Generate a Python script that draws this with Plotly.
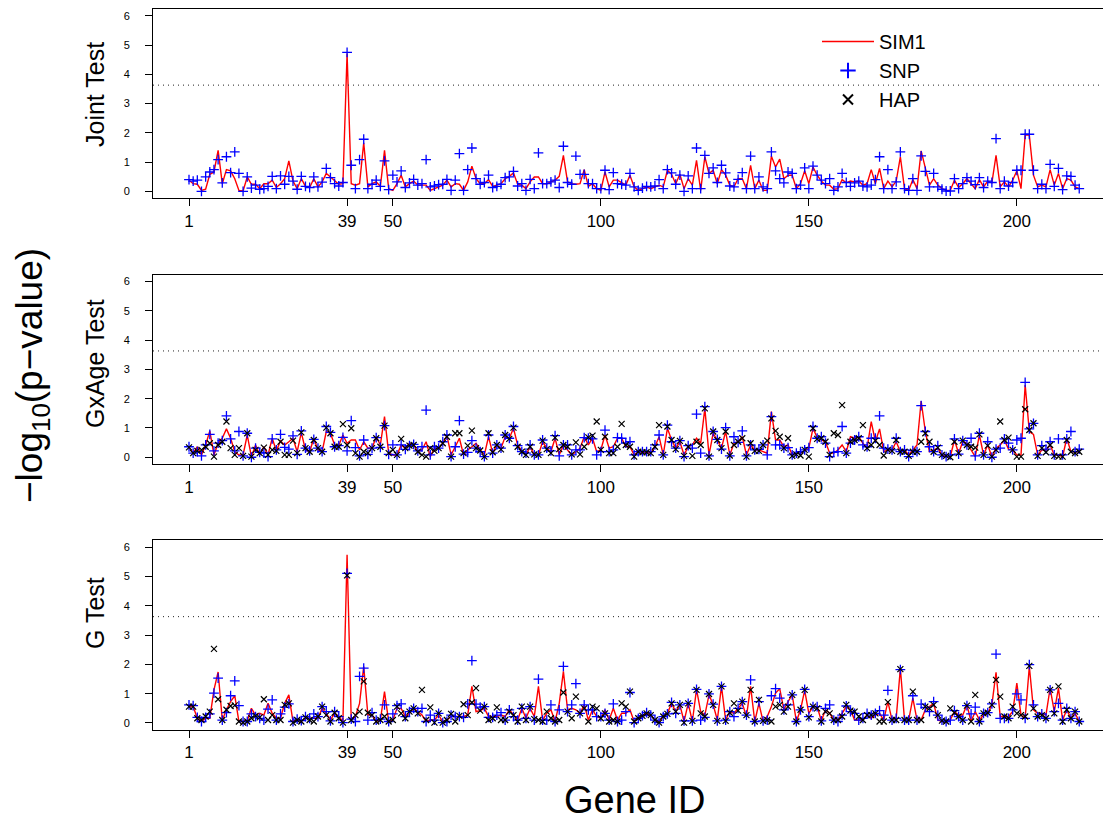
import plotly.graph_objects as go

genes = list(range(1, 216))

# ---------- Panel 1: Joint Test ----------
joint_sim1 = [0.38,0.26,0.24,0.03,0.07,0.58,0.66,1.40,0.26,0.74,0.70,0.43,0.03,0.01,0.49,0.24,0.24,0.09,0.26,0.26,
              0.38,0.13,0.26,0.43,1.04,0.35,0.09,0.43,0.17,0.13,0.43,0.15,0.32,0.61,0.49,0.35,0.24,0.26,4.71,0.26,
              0.21,0.26,1.66,0.15,0.26,0.32,0.17,1.40,0.09,0.03,0.26,0.55,0.15,0.26,0.35,0.21,0.21,0.21,0.03,0.09,
              0.15,0.21,0.38,0.15,0.26,0.24,0.03,0.32,0.86,0.43,0.26,0.26,0.40,0.17,0.21,0.26,0.43,0.51,0.63,0.24,
              0.21,0.09,0.32,0.49,0.49,0.26,0.26,0.32,0.38,0.51,1.23,0.32,0.26,0.24,0.26,0.74,0.17,0.26,0.09,0.03,
              0.66,0.15,0.38,0.38,0.29,0.21,0.55,0.15,0.03,0.09,0.15,0.09,0.15,0.21,0.15,0.72,0.58,0.26,0.58,0.09,
              0.43,0.21,1.06,0.03,1.18,0.61,0.72,0.26,0.74,0.55,0.21,0.15,0.43,0.43,0.09,0.89,0.09,0.38,0.03,0.03,
              1.20,0.83,1.10,0.43,0.55,0.55,0.09,0.26,0.70,0.26,0.83,0.55,0.35,0.21,0.21,0.07,0.09,0.40,0.29,0.35,
              0.32,0.35,0.21,0.26,0.74,0.26,0.78,0.09,0.35,0.15,0.35,1.18,0.09,0.03,0.40,0.09,1.38,0.78,0.21,0.43,
              0.21,0.09,0.03,0.03,0.38,0.13,0.26,0.43,0.26,0.09,0.40,0.15,0.35,0.29,1.23,0.15,0.32,0.15,0.38,0.70,
              0.09,1.92,1.92,0.55,0.15,0.21,0.15,0.74,0.21,0.61,0.09,0.43,0.38,0.15,0.09]
joint_snp = [0.40,0.35,0.38,0.00,0.49,0.66,0.74,1.08,0.29,1.18,0.64,1.35,0.61,0.00,0.49,0.11,0.21,0.07,0.09,0.17,
             0.51,0.09,0.53,0.24,0.51,0.35,0.07,0.51,0.17,0.13,0.49,0.15,0.31,0.78,0.47,0.26,0.18,0.30,4.75,0.89,
             0.09,1.08,1.78,0.09,0.24,0.38,0.17,1.04,0.06,0.55,0.32,0.70,0.13,0.29,0.41,0.21,0.26,1.08,0.15,0.18,
             0.23,0.24,0.41,0.03,0.38,1.29,0.03,0.74,1.48,0.43,0.24,0.30,0.55,0.13,0.17,0.24,0.47,0.49,0.68,0.18,
             0.26,0.03,0.41,0.09,1.31,0.26,0.26,0.32,0.38,0.13,1.54,0.30,0.24,1.20,0.58,0.58,0.26,0.26,0.09,0.09,
             0.72,0.06,0.64,0.26,0.24,0.21,0.61,0.15,0.03,0.11,0.17,0.15,0.18,0.40,0.09,0.74,0.63,0.24,0.55,0.00,
             0.53,0.09,1.48,0.09,1.23,0.61,0.80,0.30,0.89,0.63,0.18,0.15,0.41,0.64,0.09,1.20,0.09,0.49,0.15,0.09,
             1.35,0.70,0.43,0.29,0.66,0.61,0.09,0.21,0.80,0.09,0.86,0.55,0.38,0.26,0.43,0.03,0.15,0.61,0.30,0.17,
             0.29,0.35,0.18,0.15,0.21,0.40,1.18,0.09,0.74,0.09,0.32,1.35,0.09,0.03,0.43,0.03,1.21,0.68,0.15,0.61,
             0.15,0.07,0.01,0.01,0.43,0.09,0.26,0.47,0.35,0.23,0.47,0.13,0.35,0.30,1.80,0.09,0.35,0.18,0.30,0.72,
             0.72,1.95,1.95,0.72,0.09,0.24,0.09,0.92,0.17,0.78,0.06,0.53,0.51,0.21,0.09]

# ---------- Panel 2: GxAge Test ----------
gxage_sim1 = [0.33,0.14,0.36,0.08,0.42,0.90,0.08,0.48,0.65,0.97,0.65,0.19,0.08,0.08,0.76,0.02,0.42,0.08,0.36,0.08,
              0.65,0.22,0.56,0.42,0.53,0.65,0.19,0.84,0.25,0.19,0.65,0.25,0.19,0.88,0.82,0.42,0.40,0.76,0.48,0.59,
              0.59,0.25,0.53,0.31,0.31,0.70,0.42,1.39,0.14,0.08,0.08,0.42,0.31,0.48,0.42,0.19,0.25,0.53,0.02,0.31,
              0.31,0.48,0.74,0.08,0.36,0.65,0.08,0.25,0.36,0.48,0.25,0.08,0.70,0.14,0.42,0.31,0.70,0.65,0.99,0.42,
              0.22,0.08,0.36,0.08,0.08,0.53,0.31,0.19,0.65,0.08,0.42,0.25,0.08,0.19,0.31,0.70,0.42,0.65,0.19,0.25,
              0.76,0.31,0.36,0.65,0.65,0.36,0.36,0.08,0.19,0.17,0.17,0.14,0.36,0.70,0.08,0.99,0.59,0.31,0.53,0.08,
              0.36,0.42,0.65,0.48,1.67,0.08,0.82,0.59,0.31,0.88,0.08,0.48,0.53,0.70,0.08,0.42,0.25,0.25,0.19,0.14,
              1.56,0.59,0.59,0.36,0.42,0.08,0.14,0.14,0.22,0.31,0.99,0.67,0.59,0.53,0.14,0.14,0.25,0.42,0.19,0.70,
              0.65,0.70,0.48,0.31,1.22,0.53,0.97,0.19,0.25,0.25,0.53,0.19,0.25,0.08,0.25,0.42,1.92,0.88,0.19,0.25,
              0.31,0.08,0.02,0.02,0.59,0.14,0.53,0.48,0.25,0.02,0.76,0.08,0.42,0.02,0.31,0.42,0.59,0.28,0.25,0.08,
              0.08,2.47,0.88,0.78,0.08,0.25,0.25,0.42,0.08,0.08,0.02,0.65,0.19,0.19,0.19]
gxage_snp = [0.36,0.14,0.19,0.05,0.42,0.78,0.22,0.48,0.57,1.41,0.63,0.22,0.88,0.05,0.82,0.00,0.31,0.17,0.14,0.02,
             0.63,0.25,0.78,0.34,0.28,0.73,0.10,0.90,0.31,0.22,0.61,0.31,0.19,1.05,0.85,0.36,0.40,0.68,0.22,1.25,
             0.33,0.05,0.59,0.10,0.31,0.67,0.34,1.08,0.10,0.42,0.08,0.42,0.27,0.40,0.44,0.22,0.36,1.61,0.08,0.36,
             0.31,0.53,0.76,0.02,0.36,1.25,0.11,0.17,0.57,0.31,0.19,0.02,0.76,0.14,0.42,0.31,0.76,0.65,1.05,0.40,
             0.19,0.14,0.42,0.08,0.08,0.59,0.31,0.22,0.74,0.05,0.42,0.42,0.08,0.25,0.25,0.67,0.65,0.63,0.08,0.19,
             0.93,0.19,0.25,0.67,0.65,0.48,0.53,0.08,0.19,0.19,0.19,0.19,0.42,0.76,0.08,1.10,0.53,0.31,0.57,0.02,
             0.40,0.31,1.47,0.14,1.73,0.05,0.88,0.61,0.28,1.01,0.05,0.70,0.51,0.90,0.05,0.42,0.25,0.27,0.42,0.08,
             1.39,0.42,0.42,0.31,0.33,0.08,0.14,0.19,0.25,0.33,1.05,0.65,0.70,0.48,0.02,0.17,0.19,1.05,0.14,0.48,
             0.59,0.70,0.42,0.36,0.65,0.65,1.41,0.31,0.28,0.25,0.65,0.19,0.25,0.02,0.23,0.19,1.76,0.88,0.36,0.19,
             0.40,0.08,0.02,0.08,0.63,0.11,0.57,0.42,0.65,0.05,0.82,0.08,0.53,0.00,0.28,0.31,0.63,0.48,0.25,0.59,
             0.65,2.56,0.97,1.16,0.08,0.40,0.28,0.53,0.08,0.63,0.08,0.63,0.88,0.19,0.28]
gxage_hap = [0.34,0.14,0.22,0.25,0.36,0.48,0.02,0.42,0.53,1.22,0.31,0.08,0.31,0.05,0.82,0.02,0.25,0.14,0.33,0.08,
             0.25,0.22,0.53,0.08,0.08,0.57,0.14,0.85,0.31,0.19,0.59,0.31,0.19,1.01,0.82,0.36,0.36,1.13,0.42,0.99,
             0.14,0.02,0.19,0.14,0.31,0.65,0.36,1.08,0.14,0.25,0.08,0.63,0.31,0.40,0.42,0.19,0.08,0.02,0.31,0.22,
             0.31,0.48,0.70,0.02,0.82,0.82,0.14,0.40,0.91,0.31,0.23,0.02,0.82,0.17,0.42,0.27,0.76,0.63,1.01,0.36,
             0.19,0.08,0.36,0.10,0.08,0.57,0.28,0.14,0.67,0.28,0.42,0.36,0.10,0.51,0.10,0.36,0.68,0.74,1.22,0.25,
             0.70,0.14,0.14,0.36,1.14,0.42,0.36,0.02,0.19,0.17,0.17,0.14,0.36,1.10,0.08,1.05,0.59,0.28,0.56,0.05,
             0.36,0.05,0.53,0.42,1.67,0.02,0.88,0.59,0.31,0.88,0.06,0.42,0.53,0.65,0.02,0.48,0.22,0.22,0.42,0.57,
             1.33,0.90,0.70,0.31,0.65,0.05,0.10,0.06,0.25,0.02,0.99,0.63,0.65,0.53,0.08,0.82,0.76,1.78,0.14,0.53,
             0.59,0.65,1.10,0.31,0.42,0.57,0.42,0.06,0.25,0.22,0.59,0.19,0.19,0.05,0.19,0.19,0.53,0.82,0.53,0.19,
             0.33,0.08,0.05,0.00,0.53,0.14,0.57,0.42,0.36,0.33,0.78,0.08,0.40,0.02,0.25,1.22,0.59,0.67,0.25,0.02,
             0.02,1.64,0.93,1.16,0.05,0.31,0.17,0.42,0.05,0.02,0.02,0.59,0.19,0.14,0.19]

# ---------- Panel 3: G Test ----------
g_sim1 = [0.56,0.56,0.16,0.05,0.16,0.16,1.13,1.74,0.10,0.45,0.73,0.93,0.05,0.05,0.08,0.50,0.27,0.33,0.27,0.67,
          0.33,0.16,0.16,0.67,0.96,0.05,0.10,0.05,0.16,0.16,0.16,0.16,0.50,0.33,0.10,0.33,0.22,0.05,5.74,0.10,
          0.22,0.67,1.93,0.27,0.27,0.05,0.10,1.07,0.05,0.10,0.50,0.50,0.22,0.33,0.50,0.39,0.27,0.05,0.10,0.10,
          0.27,0.05,0.10,0.22,0.22,0.22,0.22,0.27,1.25,0.39,0.42,0.50,0.22,0.22,0.22,0.27,0.22,0.45,0.27,0.10,
          0.50,0.16,0.50,0.22,1.25,0.10,0.33,0.45,0.05,0.67,1.76,0.45,0.50,0.45,0.33,0.62,0.10,0.45,0.22,0.16,
          0.45,0.10,0.50,0.10,0.33,0.33,0.45,0.05,0.16,0.24,0.33,0.27,0.10,0.05,0.22,0.33,0.67,0.39,0.62,0.05,
          0.67,0.05,1.15,0.39,0.27,0.96,0.62,0.10,1.25,0.10,0.39,0.33,0.50,0.67,0.22,1.25,0.05,0.67,0.05,0.22,
          0.56,1.02,1.17,0.45,0.73,0.96,0.05,0.45,1.11,0.33,0.56,0.56,0.07,0.45,0.33,0.10,0.10,0.33,0.56,0.45,
          0.10,0.10,0.10,0.27,0.16,0.27,0.33,0.10,0.73,0.10,0.16,1.87,0.10,0.10,0.85,0.10,0.10,0.45,0.56,0.67,
          0.10,0.05,0.05,0.10,0.39,0.27,0.27,0.62,0.05,0.39,0.10,0.27,0.33,0.62,1.73,0.22,0.22,0.22,0.39,1.36,
          0.27,0.16,1.93,0.45,0.33,0.33,0.27,1.19,0.39,1.19,0.10,0.45,0.16,0.33,0.05]
g_snp = [0.62,0.59,0.19,0.05,0.19,0.31,1.02,1.53,0.10,0.35,0.93,1.44,0.59,0.05,0.05,0.31,0.22,0.16,0.10,0.47,
         0.79,0.10,0.31,0.54,0.65,0.05,0.13,0.08,0.22,0.16,0.31,0.22,0.56,0.39,0.07,0.39,0.22,0.01,5.11,0.13,
         0.05,1.59,1.87,0.10,0.35,0.10,0.13,0.62,0.05,0.31,0.59,0.65,0.22,0.39,0.50,0.39,0.50,0.05,0.27,0.10,
         0.33,0.01,0.05,0.27,0.22,0.22,0.19,0.65,2.13,0.64,0.54,0.56,0.19,0.19,0.27,0.35,0.10,0.45,0.22,0.10,
         0.50,0.16,0.56,0.10,1.50,0.10,0.10,0.62,0.05,0.45,1.93,0.39,0.62,1.34,0.33,0.62,0.45,0.45,0.22,0.22,
         0.33,0.10,0.65,0.05,0.10,0.39,1.04,0.01,0.16,0.25,0.35,0.27,0.10,0.01,0.22,0.31,0.70,0.33,0.62,0.07,
         0.67,0.07,1.15,0.10,0.19,0.99,0.64,0.07,1.25,0.10,0.39,0.22,0.50,0.73,0.27,1.47,0.05,0.73,0.07,0.10,
         0.93,1.17,0.85,0.45,0.62,0.96,0.05,0.45,1.15,0.22,0.56,0.56,0.07,0.50,0.62,0.10,0.05,0.27,0.58,0.39,
         0.33,0.10,0.16,0.33,0.27,0.33,0.42,0.27,1.11,0.10,0.16,1.82,0.10,0.10,0.93,0.10,0.64,0.53,0.39,0.73,
         0.27,0.10,0.05,0.10,0.42,0.22,0.10,0.59,0.31,0.54,0.05,0.33,0.35,0.65,2.35,0.16,0.16,0.16,0.45,0.99,
         0.79,0.16,1.99,0.62,0.22,0.31,0.16,1.13,0.39,0.67,0.10,0.50,0.16,0.39,0.05]
g_hap = [0.56,0.56,0.16,0.10,0.22,0.39,2.53,0.81,0.10,0.45,0.58,0.60,0.05,0.01,0.05,0.16,0.24,0.19,0.81,0.10,
         0.27,0.10,0.10,0.62,0.67,0.01,0.10,0.05,0.19,0.10,0.05,0.22,0.56,0.27,0.05,0.35,0.16,0.01,5.04,0.10,
         0.27,0.39,1.42,0.35,0.27,0.05,0.10,0.22,0.05,0.10,0.56,0.33,0.16,0.39,0.50,0.33,1.13,0.10,0.53,0.01,
         0.33,0.01,0.10,0.31,0.05,0.24,0.64,0.27,0.70,1.19,0.42,0.56,0.10,0.16,0.53,0.10,0.10,0.39,0.27,0.05,
         0.56,0.10,0.56,0.13,0.10,0.05,0.39,0.16,0.05,0.10,1.04,0.39,0.16,0.90,0.33,0.50,0.05,0.56,0.50,0.16,
         0.33,0.05,0.10,0.05,0.67,0.56,1.07,0.05,0.16,0.24,0.33,0.27,0.10,0.01,0.22,0.31,0.67,0.39,0.62,0.01,
         0.67,0.07,1.13,0.33,0.22,0.99,0.62,0.07,1.25,0.07,0.35,0.67,0.42,0.73,0.27,1.13,0.05,0.79,0.07,0.10,
         0.05,0.56,0.62,0.39,0.56,0.96,0.05,0.45,1.13,0.19,0.56,0.50,0.05,0.39,0.33,0.10,0.10,0.22,0.62,0.42,
         0.39,0.22,0.10,0.27,0.27,0.33,0.05,0.05,0.71,0.10,0.10,1.84,0.10,0.10,1.07,0.10,0.10,0.56,0.50,0.62,
         0.27,0.08,0.05,0.50,0.35,0.22,0.10,0.59,0.05,0.96,0.05,0.33,0.35,0.62,1.47,0.90,0.22,0.16,0.56,0.33,
         0.27,0.22,1.95,0.50,0.22,0.27,0.16,1.13,0.33,1.25,0.05,0.45,0.16,0.39,0.05]

panel_titles = ["Joint Test", "GxAge Test", "G Test"]
x_ticks = [1, 39, 50, 100, 150, 200]
y_ticks = [0, 1, 2, 3, 4, 5, 6]
threshold = 3.63

FONT = "Liberation Sans, Arial, sans-serif"
RED = "#FF0000"
BLUE = "#0000FF"
BLACK = "#000000"

panels = [
    (joint_sim1, joint_snp, None),
    (gxage_sim1, gxage_snp, gxage_hap),
    (g_sim1, g_snp, g_hap),
]

OFF = 8                      # page body margin of the html page
W, H = 1111 - OFF, 823 - OFF
def sx(p):                   # screen px -> figure px
    return p - OFF

L = sx(153)
plot_w = W - L
px_per_gene = 4.16
x0 = 1 - (sx(189) - L) / px_per_gene
x1 = x0 + plot_w / px_per_gene

pix = [(8.8, 198.3), (274.5, 464.3), (540.2, 730.0)]
pix = [(sx(t), sx(b)) for (t, b) in pix]
domains = [[1 - b / H, 1 - t / H] for (t, b) in pix]
title_centers = [sx(95), sx(364), sx(613)]

fig = go.Figure()

for i, (sim, snp, hap) in enumerate(panels):
    xa = "x" if i == 0 else f"x{i+1}"
    ya = "y" if i == 0 else f"y{i+1}"
    fig.add_trace(go.Scatter(x=genes, y=sim, mode="lines", line=dict(color=RED, width=1.4),
                             xaxis=xa, yaxis=ya, showlegend=False, hoverinfo="skip"))
    fig.add_trace(go.Scatter(x=genes, y=snp, mode="markers",
                             marker=dict(symbol="cross-thin", size=7, line=dict(color=BLUE, width=1.3)),
                             xaxis=xa, yaxis=ya, showlegend=False, hoverinfo="skip"))
    if hap is not None:
        fig.add_trace(go.Scatter(x=genes, y=hap, mode="markers",
                                 marker=dict(symbol="x-thin", size=6, line=dict(color=BLACK, width=1.2)),
                                 xaxis=xa, yaxis=ya, showlegend=False, hoverinfo="skip"))

# legend entries
fig.add_trace(go.Scatter(x=[None], y=[None], mode="lines", name="SIM1",
                         line=dict(color=RED, width=1.4), xaxis="x", yaxis="y"))
fig.add_trace(go.Scatter(x=[None], y=[None], mode="markers", name="SNP",
                         marker=dict(symbol="cross-thin", size=11, line=dict(color=BLUE, width=2)),
                         xaxis="x", yaxis="y"))
fig.add_trace(go.Scatter(x=[None], y=[None], mode="markers", name="HAP",
                         marker=dict(symbol="x-thin", size=10, line=dict(color=BLACK, width=2)),
                         xaxis="x", yaxis="y"))

layout = dict(
    width=W, height=H,
    margin=dict(l=L, r=0, t=0, b=0, autoexpand=False),
    paper_bgcolor="white", plot_bgcolor="white",
    font=dict(family=FONT, color="black"),
    legend=dict(x=(sx(817) - L) / plot_w, y=1 - sx(22) / H, xanchor="left", yanchor="top",
                bgcolor="rgba(0,0,0,0)", font=dict(size=20, family=FONT),
                itemwidth=52, tracegroupgap=0, traceorder="normal"),
    shapes=[], annotations=[],
)

for i in range(3):
    xk = "xaxis" if i == 0 else f"xaxis{i+1}"
    yk = "yaxis" if i == 0 else f"yaxis{i+1}"
    ya = "y" if i == 0 else f"y{i+1}"
    xa = "x" if i == 0 else f"x{i+1}"
    layout[xk] = dict(domain=[0, 1], anchor=ya, range=[x0, x1], tickvals=x_ticks,
                      ticktext=[str(v) for v in x_ticks], ticks="outside", ticklen=7, tickwidth=1,
                      tickcolor="black", showline=True, mirror=True, linecolor="black", linewidth=1,
                      showgrid=False, zeroline=False, tickfont=dict(size=17, family=FONT),
                      automargin=False, fixedrange=True)
    layout[yk] = dict(domain=domains[i], anchor=xa, range=[-0.24, 6.24], tickvals=y_ticks,
                      ticks="outside", ticklen=7, tickwidth=1, tickcolor="black",
                      showline=True, mirror=False, linecolor="black", linewidth=1,
                      showgrid=False, zeroline=False, tickfont=dict(size=11, family=FONT),
                      ticklabelstandoff=13, automargin=False, fixedrange=True)
    layout["shapes"].append(dict(type="line", xref=f"{xa} domain", yref=ya, x0=0, x1=1,
                                 y0=threshold, y1=threshold,
                                 line=dict(color="#222222", width=1, dash="1px,4px")))
    layout["annotations"].append(dict(text=panel_titles[i], xref="paper", yref="paper",
                                      x=(sx(95) - L) / plot_w, y=1 - title_centers[i] / H,
                                      xanchor="center", yanchor="middle", textangle=-90,
                                      showarrow=False, font=dict(size=25, family=FONT)))

layout["annotations"].append(dict(text="\u2212log<sub>10</sub>(p\u2212value)", xref="paper", yref="paper",
                                  x=(sx(32) - L) / plot_w, y=1 - sx(376) / H, xanchor="center",
                                  yanchor="middle", textangle=-90, showarrow=False,
                                  font=dict(size=37, family=FONT)))
layout["annotations"].append(dict(text="Gene ID", xref="paper", yref="paper",
                                  x=(sx(635) - L) / plot_w, y=1 - sx(800) / H, xanchor="center",
                                  yanchor="middle", showarrow=False, font=dict(size=38, family=FONT)))

fig.update_layout(**layout)
fig.write_html("out.html")
